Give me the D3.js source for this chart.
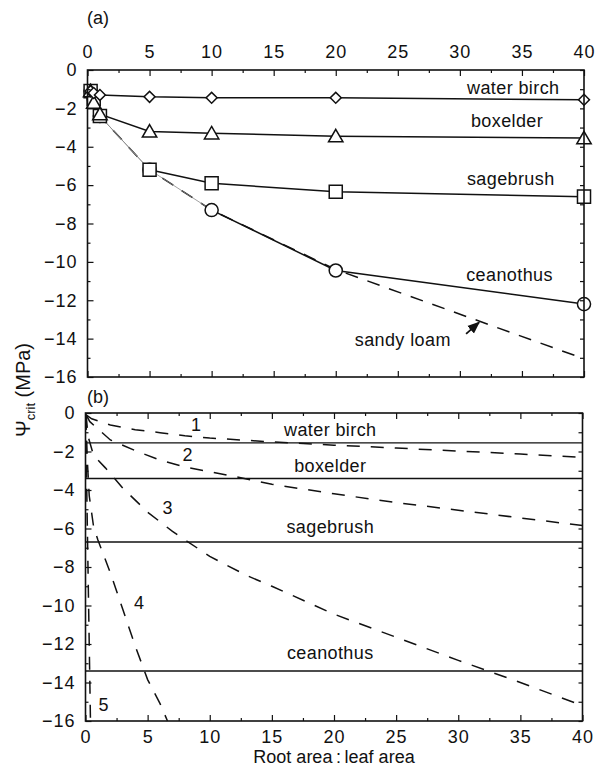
<!DOCTYPE html>
<html>
<head>
<meta charset="utf-8">
<script src="https://cdn.jsdelivr.net/npm/d3@7"></script>
<style>
  body { margin: 0; background: #fff; }
  svg { display: block; }
  text { font-family: "Liberation Sans", Arial, Helvetica, sans-serif; fill: #111; }
</style>
</head>
<body>
<svg id="fig" width="598" height="773"></svg>
<script>
// ---------- data ----------
// panel (a): measured psi_crit vs root:leaf area
const ratioA = [0.25, 0.5, 1, 5, 10, 20, 40];
const waterBirchA = [-1.1, -1.2, -1.3, -1.4, -1.45, -1.45, -1.55];
const boxelderA   = [-1.1, -1.7, -2.3, -3.2, -3.3, -3.45, -3.55];
const sagebrushA  = [-1.1, -1.5, -2.4, -5.2, -5.9, -6.35, -6.6];
const ceanothusA  = [-1.1, -1.5, -2.4, -5.2, -7.3, -10.45, -12.2];
const sandyLoamX  = [0.25, 1, 5, 10, 20, 40];
const sandyLoamY  = [-1.1, -2.4, -5.2, -7.3, -10.4, -15.05];

// panel (b): species limits (horizontal) and soil curves 1-5
const speciesB = ["water birch", "boxelder", "sagebrush", "ceanothus"];
const limitB   = [-1.55, -3.4, -6.7, -13.4];
const curve1X = [0.05, 0.5, 2, 4, 6, 8, 10, 15, 20, 25, 30, 35, 40];
const curve1Y = [-0.1, -0.3, -0.62, -0.87, -1.02, -1.18, -1.3, -1.5, -1.67, -1.82, -1.98, -2.13, -2.3];
const curve2X = [0.05, 0.35, 2, 4, 6, 8, 10, 12, 15, 20, 25, 30, 35, 40];
const curve2Y = [-0.1, -0.45, -1.4, -1.95, -2.45, -2.8, -3.05, -3.3, -3.7, -4.2, -4.65, -5.05, -5.45, -5.85];
const curve3X = [0.05, 0.2, 0.65, 1.6, 3, 5, 7, 10, 13, 15, 20, 25, 30, 35, 40];
const curve3Y = [-0.1, -1.2, -2.2, -2.85, -3.9, -5.15, -6.15, -7.45, -8.45, -9.0, -10.45, -11.65, -12.85, -14.0, -15.2];
const curve4X = [0.03, 0.15, 0.3, 0.65, 1, 2, 3, 4, 5, 6, 6.6];
const curve4Y = [-0.2, -2.5, -4.3, -5.9, -6.6, -8.3, -10.2, -12.1, -13.85, -15.1, -16];
const curve5X = [0.02, 0.1, 0.2, 0.3, 0.4];
const curve5Y = [-0.2, -4, -8, -12, -16];
const curveNames = ["1", "2", "3", "4", "5"];

const xMajor = [0, 5, 10, 15, 20, 25, 30, 35, 40];
const xMinor = [2.5, 7.5, 12.5, 17.5, 22.5, 27.5, 32.5, 37.5];
const yMajor = [0, -2, -4, -6, -8, -10, -12, -14, -16];
const yMinor = [-1, -3, -5, -7, -9, -11, -13, -15];

const svg = d3.select("#fig");

function makePanel(left, right, top, bottom) {
  const x = d3.scaleLinear().domain([0, 40]).range([left, right]);
  const y = d3.scaleLinear().domain([-16, 0]).range([bottom, top]);
  return {x, y, left, right, top, bottom};
}

const pa = makePanel(87.5, 584, 70, 377);
const pb = makePanel(85.5, 582.5, 413, 721);

function drawFrame(p, labelTop) {
  const g = svg.append("g");
  // left axis with labels
  g.append("g").attr("transform", `translate(${p.left},0)`)
    .call(d3.axisLeft(p.y).tickValues(yMajor).tickSize(-6).tickPadding(10).tickFormat(d3.format("d")));
  g.append("g").attr("transform", `translate(${p.left},0)`)
    .call(d3.axisLeft(p.y).tickValues(yMinor).tickSize(-3).tickFormat(""));
  // right axis
  g.append("g").attr("transform", `translate(${p.right},0)`)
    .call(d3.axisRight(p.y).tickValues(yMajor.concat(yMinor)).tickSize(-4).tickFormat(""));
  // top & bottom
  const topAx = d3.axisTop(p.x).tickValues(xMajor).tickSize(-6).tickPadding(12)
    .tickFormat(labelTop ? d3.format("d") : "");
  const botAx = d3.axisBottom(p.x).tickValues(xMajor).tickSize(-6).tickPadding(9)
    .tickFormat(labelTop ? "" : d3.format("d"));
  g.append("g").attr("transform", `translate(0,${p.top})`).call(topAx);
  g.append("g").attr("transform", `translate(0,${p.top})`)
    .call(d3.axisTop(p.x).tickValues(xMinor).tickSize(-3).tickFormat(""));
  g.append("g").attr("transform", `translate(0,${p.bottom})`).call(botAx);
  g.append("g").attr("transform", `translate(0,${p.bottom})`)
    .call(d3.axisBottom(p.x).tickValues(xMinor).tickSize(-3).tickFormat(""));
  g.selectAll(".domain").remove();
  g.selectAll(".tick line").attr("stroke", "#111").attr("stroke-width", 1.2);
  g.selectAll(".tick text")
    .attr("font-family", "Liberation Sans, Arial, sans-serif")
    .attr("font-size", 18).style("font-size", "18px")
    .style("letter-spacing", "1px").attr("fill", "#111");
  g.append("rect")
    .attr("x", p.left).attr("y", p.top)
    .attr("width", p.right - p.left).attr("height", p.bottom - p.top)
    .attr("fill", "none").attr("stroke", "#111").attr("stroke-width", 1.6);
}

function lineOf(p) {
  return d3.line().x(d => p.x(d[0])).y(d => p.y(d[1]));
}

// ---------- panel (a) ----------
const la = lineOf(pa);
const pts = ys => ratioA.map((r, i) => [r, ys[i]]);

// sandy loam, dashed
svg.append("path")
  .attr("d", la(sandyLoamX.map((v, i) => [v, sandyLoamY[i]])))
  .attr("fill", "none").attr("stroke", "#111").attr("stroke-width", 1.5)
  .attr("stroke-dasharray", "13,10");

// species lines; first segments of sagebrush/ceanothus print thin grey
const seriesA = [
  {name: "water birch", ys: waterBirchA, sym: "diamond", greyTo: 0},
  {name: "boxelder",    ys: boxelderA,   sym: "triangle", greyTo: 0},
  {name: "sagebrush",   ys: sagebrushA,  sym: "square", greyTo: 3},
  {name: "ceanothus",   ys: ceanothusA,  sym: "circle", greyTo: 4}
];

seriesA.forEach(s => {
  const p = pts(s.ys);
  if (s.greyTo > 0) {
    svg.append("path").attr("d", la(p.slice(0, s.greyTo + 1)))
      .attr("fill", "none").attr("stroke", "#888").attr("stroke-width", 0.8);
  }
  svg.append("path").attr("d", la(p.slice(s.greyTo)))
    .attr("fill", "none").attr("stroke", "#111").attr("stroke-width", 1.5);
});

const symGen = {
  diamond: d3.symbol().type(d3.symbolSquare).size(60),
  triangle: d3.symbol().type(d3.symbolTriangle).size(90),
  square: d3.symbol().type(d3.symbolSquare).size(170),
  circle: d3.symbol().type(d3.symbolCircle).size(135)
};

seriesA.slice().reverse().forEach(s => {
  svg.append("g").selectAll("path")
    .data(pts(s.ys))
    .join("path")
    .attr("d", symGen[s.sym]())
    .attr("transform", d => `translate(${pa.x(d[0])},${pa.y(d[1]) + (s.sym === "triangle" ? 1.5 : 0)})` + (s.sym === "diamond" ? " rotate(45)" : ""))
    .attr("fill", "#fff").attr("stroke", "#111").attr("stroke-width", 1.5);
});

drawFrame(pa, true);

// labels panel (a)
const labelsA = [
  {t: "water birch", x: 34.3, y: -0.94},
  {t: "boxelder", x: 33.8, y: -2.65},
  {t: "sagebrush", x: 34.1, y: -5.68},
  {t: "ceanothus", x: 34.0, y: -10.7},
  {t: "sandy loam", x: 25.4, y: -14.06}
];
svg.append("g").selectAll("text").data(labelsA).join("text")
  .attr("x", d => pa.x(d.x)).attr("y", d => pa.y(d.y))
  .attr("text-anchor", "middle").attr("dominant-baseline", "central")
  .style("font-size", "18px").style("letter-spacing", "0.4px")
  .text(d => d.t);

// arrow to sandy loam line
svg.append("defs").append("marker")
  .attr("id", "ah").attr("viewBox", "0 0 10 10").attr("refX", 9).attr("refY", 5)
  .attr("markerWidth", 7).attr("markerHeight", 7).attr("orient", "auto")
  .append("path").attr("d", "M0,1 L10,5 L0,9 Z").attr("fill", "#111");
svg.append("line")
  .attr("x1", pa.x(30.5)).attr("y1", pa.y(-13.75))
  .attr("x2", pa.x(31.55)).attr("y2", pa.y(-13.15))
  .attr("stroke", "#111").attr("stroke-width", 1.8).attr("marker-end", "url(#ah)");

// ---------- panel (b) ----------
const lb = lineOf(pb);
svg.append("g").selectAll("line").data(limitB).join("line")
  .attr("x1", pb.x(0)).attr("x2", pb.x(40))
  .attr("y1", d => pb.y(d)).attr("y2", d => pb.y(d))
  .attr("stroke", "#111").attr("stroke-width", 1.4);

const curvesB = [[curve1X, curve1Y], [curve2X, curve2Y], [curve3X, curve3Y], [curve4X, curve4Y], [curve5X, curve5Y]];
svg.append("g").selectAll("path").data(curvesB).join("path")
  .attr("d", c => lb(c[0].map((v, i) => [v, c[1][i]])))
  .attr("fill", "none").attr("stroke", "#111").attr("stroke-width", 1.5)
  .attr("stroke-dasharray", "13,11");

drawFrame(pb, false);

const speciesLabelX = 19.7;
const speciesLabelY = [-0.88, -2.75, -5.92, -12.47];
svg.append("g").selectAll("text").data(speciesB).join("text")
  .attr("x", pb.x(speciesLabelX)).attr("y", (d, i) => pb.y(speciesLabelY[i]))
  .attr("text-anchor", "middle").attr("dominant-baseline", "central")
  .style("font-size", "18px").style("letter-spacing", "0.4px")
  .text(d => d);

const curveLabelX = [8.9, 8.2, 6.6, 4.3, 1.45];
const curveLabelY = [-0.62, -2.18, -4.94, -9.87, -15.17];
svg.append("g").selectAll("text").data(curveNames).join("text")
  .attr("x", (d, i) => pb.x(curveLabelX[i])).attr("y", (d, i) => pb.y(curveLabelY[i]))
  .attr("text-anchor", "middle").attr("dominant-baseline", "central")
  .style("font-size", "18px")
  .text(d => d);

// ---------- titles ----------
svg.append("text").attr("x", 98).attr("y", 18).attr("text-anchor", "middle")
  .attr("dominant-baseline", "central").style("font-size", "18px").text("(a)");
svg.append("text").attr("x", 98).attr("y", 397).attr("text-anchor", "middle")
  .attr("dominant-baseline", "central").style("font-size", "18px").text("(b)");

svg.append("text").attr("x", 334).attr("y", 763).attr("text-anchor", "middle")
  .style("font-size", "18px").text("Root area\u2009:\u2009leaf area");

const yl = svg.append("text")
  .attr("transform", "translate(30,390) rotate(-90)")
  .attr("text-anchor", "middle").style("font-size", "20px");
yl.append("tspan").text("\u03A8");
yl.append("tspan").attr("dy", 5).style("font-size", "13px").text("crit");
yl.append("tspan").attr("dy", -5).text(" (MPa)");
</script>
</body>
</html>
